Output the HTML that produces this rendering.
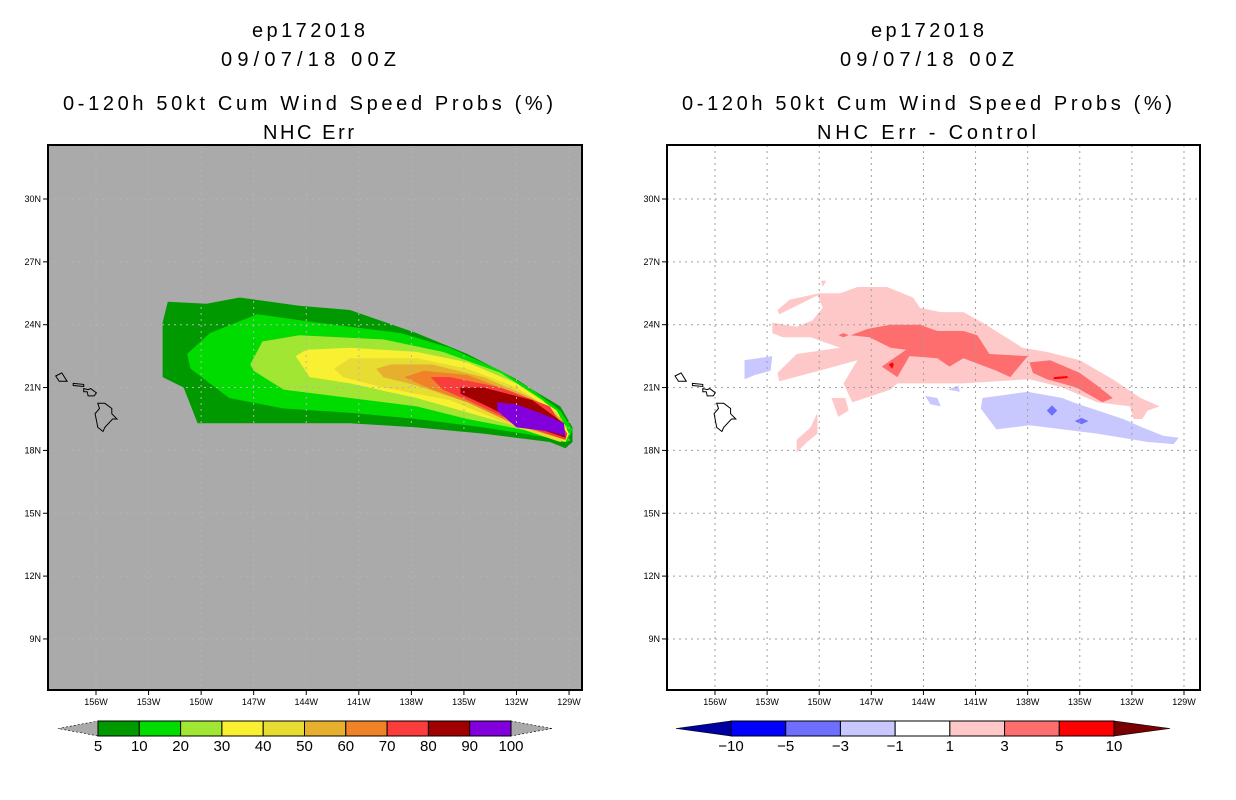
<!DOCTYPE html>
<html><head><meta charset="utf-8"><style>
html,body{margin:0;padding:0;background:#fff;}
svg{display:block;font-family:"Liberation Sans",sans-serif;}
</style></head><body>
<svg id="root" width="1236" height="800" viewBox="0 0 1236 800">
<g font-size="20" fill="#000" text-anchor="start">
<text x="252" y="37" textLength="113">ep172018</text>
<text x="221" y="66" textLength="175">09/07/18 00Z</text>
<text x="63" y="110" textLength="490">0-120h 50kt Cum Wind Speed Probs (%)</text>
<text x="263" y="139" textLength="91">NHC Err</text>
</g>
<g font-size="20" fill="#000">
<text x="871" y="37" textLength="113">ep172018</text>
<text x="840" y="66" textLength="174">09/07/18 00Z</text>
<text x="682" y="110" textLength="490">0-120h 50kt Cum Wind Speed Probs (%)</text>
<text x="817" y="139" textLength="219">NHC Err - Control</text>
</g>
<g id="leftPlot"></g>
<g id="rightPlot"></g>
<g id="leftBar"></g>
<g id="rightBar"></g>
</svg>
<script>
// ---- axis data ----
const lonTicks = [156,153,150,147,144,141,138,135,132,129];
const latTicks = [30,27,24,21,18,15,12,9];
const probLevels = ["5","10","20","30","40","50","60","70","80","90","100"];
const probColors = ["#009a00","#00dc00","#a0e632","#f8f030","#e6dc32","#e6af2d","#f08228","#fa3c3c","#a00000","#8200dc"];
const diffLevels = ["-10","-5","-3","-1","1","3","5","10"];
const diffColors = ["#0000ff","#6e6eff","#c8c8ff","#ffffff","#ffc8c8","#ff6e6e","#ff0000"];
// ---- contour data, [lonW, latN] ----
const p5 = [[152.2,24.1],[151.9,25.1],[149.7,25.0],[147.8,25.3],[144.4,24.9],[141.5,24.7],[137.7,23.6],[134.8,22.6],[132.0,21.4],[131.1,20.9],[129.5,20.1],[128.8,19.1],[128.8,18.4],[129.2,18.1],[130.1,18.4],[133.9,18.8],[137.7,19.1],[141.5,19.3],[150.2,19.3],[151.0,21.0],[152.2,21.5]];
const p10 = [[150.8,22.6],[149.5,23.6],[146.8,24.5],[143.4,24.1],[138.6,23.6],[135.8,22.9],[132.9,21.8],[131.1,20.9],[129.5,19.9],[128.8,19.0],[129.1,18.4],[130.1,18.6],[133.9,19.1],[137.7,19.5],[141.5,19.8],[145.3,20.0],[148.4,20.5],[150.6,21.9]];
const p20 = [[147.2,22.1],[146.5,23.2],[144.4,23.5],[139.6,23.3],[136.2,22.7],[132.9,21.7],[130.5,20.4],[129.1,19.1],[129.3,18.4],[131.1,18.9],[134.8,19.5],[137.7,20.1],[141.5,20.5],[145.3,20.9],[147.0,21.8]];
const p30 = [[144.6,22.5],[144.0,22.8],[141.5,22.9],[137.7,22.7],[134.8,22.2],[132.0,21.2],[129.7,19.9],[129.0,18.8],[129.2,18.4],[130.5,18.8],[133.9,19.6],[137.7,20.5],[141.5,21.2],[143.8,21.5]];
const p40 = [[142.4,21.9],[141.5,22.4],[137.7,22.4],[134.8,21.9],[132.0,21.0],[129.7,19.8],[129.1,18.6],[129.5,18.4],[132.0,19.1],[135.8,20.4],[139.6,21.0],[141.9,21.5]];
const p50 = [[140.0,21.9],[139.2,22.1],[136.8,22.1],[133.9,21.5],[131.1,20.5],[129.4,19.5],[129.2,18.6],[131.1,19.1],[134.8,20.3],[137.7,21.1],[139.6,21.5]];
const p60 = [[138.4,21.5],[137.3,21.8],[134.8,21.6],[132.0,20.7],[129.3,19.3],[129.2,18.5],[132.0,19.2],[134.8,20.3],[137.1,21.0]];
const p70 = [[136.9,21.5],[135.8,21.5],[132.9,21.0],[130.1,20.1],[129.1,18.8],[129.2,18.5],[132.0,19.3],[134.8,20.4],[136.2,20.9]];
const p80 = [[135.2,21.0],[133.9,21.0],[131.1,20.4],[129.3,19.3],[129.2,18.6],[132.0,19.4],[133.9,20.2],[135.2,20.7]];
const p90 = [[133.1,20.3],[132.0,20.2],[130.1,19.6],[129.3,19.3],[129.2,18.7],[130.1,18.9],[132.0,19.1],[133.1,19.9]];
const probPolys = [p5,p10,p20,p30,p40,p50,p60,p70,p80,p90];

const dPink = [[147.8,25.8],[146.1,25.8],[144.6,25.3],[144.2,24.8],[143.0,24.6],[141.7,24.6],[140.6,24.1],[138.3,22.9],[136.9,22.7],[135.0,22.3],[133.1,21.4],[131.5,20.5],[130.4,20.1],[131.1,19.9],[131.4,19.5],[131.9,19.5],[132.1,20.1],[134.0,20.3],[136.0,21.0],[137.9,21.4],[141.7,21.2],[145.5,21.2],[145.9,20.9],[147.7,20.4],[148.1,20.3],[148.6,21.2],[147.8,22.3],[150.0,21.8],[152.3,21.3],[152.4,21.7],[151.3,22.6],[148.8,22.9],[150.5,23.4],[152.1,23.4],[152.7,23.6],[152.7,24.1],[151.3,23.9],[150.4,24.2],[149.8,24.8],[150.1,25.4],[151.3,24.9],[152.3,24.5],[152.4,24.7],[151.7,25.2],[150.0,25.5],[148.8,25.5]];
const dPink2 = [[151.3,18.5],[151.3,17.9],[150.7,18.4],[150.1,18.8],[150.1,19.8],[150.5,19.1]];
const dPink3 = [[149.3,20.5],[148.5,20.5],[148.3,19.9],[148.9,19.6]];
const dPink4 = [[149.9,26.1],[149.6,26.1],[149.8,25.8]];
const dSalmon1 = [[148.2,23.5],[147.2,23.8],[145.9,24.0],[144.2,24.0],[143.2,23.7],[141.7,23.7],[140.9,23.5],[140.2,22.6],[138.0,22.5],[139.0,21.5],[139.8,21.8],[141.7,22.4],[142.5,22.0],[143.2,22.4],[144.8,22.5],[145.5,21.5],[146.4,22.0],[145.0,22.8],[145.9,22.9],[147.1,23.4]];
const dSalmon2 = [[137.9,22.2],[136.7,22.3],[135.0,21.7],[134.0,21.1],[133.1,20.5],[133.7,20.3],[135.2,21.0],[136.9,21.4],[137.7,21.7]];
const dSalmon3 = [[148.9,23.5],[148.6,23.6],[148.3,23.5],[148.6,23.4]];
const dRed1 = [[146.0,22.1],[145.8,22.2],[145.7,22.1],[145.8,21.9]];
const dRed2 = [[136.5,21.5],[135.7,21.55],[135.7,21.45],[136.5,21.4]];
const dBlue1 = [[140.6,20.5],[138.0,20.8],[136.0,20.5],[135.4,20.3],[132.5,19.5],[131.4,19.1],[130.2,18.7],[129.3,18.6],[129.6,18.3],[131.1,18.4],[134.0,18.8],[137.9,19.2],[139.8,19.0],[140.7,20.0]];
const dBlue2 = [[154.3,22.3],[152.7,22.5],[152.8,21.8],[153.7,21.6],[154.3,21.4]];
const dBlue3 = [[143.9,20.6],[143.2,20.5],[143.0,20.1],[143.6,20.2]];
const dBlue4 = [[142.6,20.9],[142.0,21.1],[141.9,20.8]];
const dMid1 = [[136.9,19.9],[136.6,20.15],[136.3,19.9],[136.6,19.65]];
const dMid2 = [[135.3,19.4],[134.9,19.55],[134.5,19.4],[134.9,19.25]];
const diffPolys = [[dPink,"#ffc8c8"],[dPink2,"#ffc8c8"],[dPink3,"#ffc8c8"],[dPink4,"#ffc8c8"],[dSalmon1,"#ff6e6e"],[dSalmon2,"#ff6e6e"],[dSalmon3,"#ff6e6e"],[dRed1,"#ff0000"],[dRed2,"#ff0000"],[dBlue1,"#c8c8ff"],[dBlue2,"#c8c8ff"],[dBlue3,"#c8c8ff"],[dBlue4,"#c8c8ff"],[dMid1,"#6e6eff"],[dMid2,"#6e6eff"]];

const islands = [
 [[155.9,20.25],[155.8,20.0],[156.05,19.75],[155.9,19.1],[155.6,18.9],[155.5,19.1],[155.05,19.5],[154.8,19.5],[155.1,19.75],[155.1,20.0],[155.5,20.25]],
 [[156.7,20.95],[156.45,20.9],[156.3,20.95],[155.98,20.75],[156.1,20.6],[156.45,20.6],[156.5,20.8],[156.7,20.8]],
 [[157.3,21.2],[156.7,21.15],[156.7,21.05],[157.3,21.1]],
 [[158.3,21.55],[157.95,21.7],[157.65,21.3],[158.1,21.3]]
];

const NS="http://www.w3.org/2000/svg";
function mk(tag,attrs,parent){const e=document.createElementNS(NS,tag);for(const k in attrs)e.setAttribute(k,attrs[k]);parent.appendChild(e);return e;}

function drawPanel(g,x0,x1,xs,pxPerDeg,bg,clipId){
  const top=145,bot=690;
  const X=lon=>xs+(156-lon)*pxPerDeg;
  const Y=lat=>199+(30-lat)*20.95;
  const defs=mk('defs',{},g);
  const cp=mk('clipPath',{id:clipId},defs);
  mk('rect',{x:x0,y:top,width:x1-x0,height:bot-top},cp);
  const bgr=mk('rect',{x:x0,y:top,width:x1-x0,height:bot-top,fill:bg},g);
  
  
  const inner=mk('g',{'clip-path':'url(#'+clipId+')'},g);
  return {X,Y,inner,top,bot};
}
function pathOf(poly,X,Y){return 'M'+poly.map(p=>X(p[0]).toFixed(1)+','+Y(p[1]).toFixed(1)).join('L')+'Z';}
function gridAndAxes(g,P,x0,x1,gridColor){
  lonTicks.forEach(l=>{
    const ln=mk('line',{x1:P.X(l),x2:P.X(l),y1:P.top,y2:P.bot,stroke:gridColor,'stroke-width':1,'stroke-dasharray':'2,4'},P.inner);
    
    
    mk('line',{x1:P.X(l),x2:P.X(l),y1:P.bot,y2:P.bot+5,stroke:'#000','stroke-width':1},g);
    const tx=mk('text',{x:P.X(l),y:P.bot+15,'font-size':9,'text-anchor':'middle'},g);
    tx.textContent=l+'W';
    
    
  });
  latTicks.forEach(l=>{
    const ln=mk('line',{x1:x0,x2:x1,y1:P.Y(l),y2:P.Y(l),stroke:gridColor,'stroke-width':1,'stroke-dasharray':'2,4'},P.inner);
    
    
    mk('line',{x1:x0-5,x2:x0,y1:P.Y(l),y2:P.Y(l),stroke:'#000','stroke-width':1},g);
    const tx=mk('text',{x:x0-7,y:P.Y(l)+3,'font-size':9,'text-anchor':'end'},g);
    tx.textContent=l+'N';
    
    
  });
  islands.forEach(is=>{
    const p=mk('path',{d:pathOf(is,P.X,P.Y),fill:'none',stroke:'#000','stroke-width':1},P.inner);
    
    
  });
  const fr=mk('rect',{x:x0,y:P.top,width:x1-x0,height:P.bot-P.top,fill:'none',stroke:'#000','stroke-width':2},g);
  
  
}

// left panel
const LG=document.getElementById('leftPlot');
const LP=drawPanel(LG,48,582,96,17.52,'#aaaaaa','clipL');
probPolys.forEach((poly,i)=>{
  const p=mk('path',{d:pathOf(poly,LP.X,LP.Y),fill:probColors[i]},LP.inner);
  
  
});
gridAndAxes(LG,LP,48,582,'#b4b4b4');

// right panel
const RG=document.getElementById('rightPlot');
const RP=drawPanel(RG,667,1200,715,17.37,'#ffffff','clipR');
diffPolys.forEach(d=>{
  const p=mk('path',{d:pathOf(d[0],RP.X,RP.Y),fill:d[1]},RP.inner);
  
  
});
gridAndAxes(RG,RP,667,1200,'#a0a0a0');

// colorbars
function colorbar(g,xl,xb0,xb1,xr,colors,labels,leftC,rightC,dashed){
  const y0=721,y1=736,ym=728.5;
  const w=(xb1-xb0)/colors.length;
  const lt=mk('path',{d:`M${xl},${ym}L${xb0},${y0}L${xb0},${y1}Z`,fill:leftC,stroke:'#000','stroke-width':0.6,'stroke-dasharray':dashed?'2,2':'none'},g);
  
  
  const rt=mk('path',{d:`M${xr},${ym}L${xb1},${y0}L${xb1},${y1}Z`,fill:rightC,stroke:'#000','stroke-width':0.6,'stroke-dasharray':dashed?'2,2':'none'},g);
  
  
  colors.forEach((c,i)=>{
    const r=mk('rect',{x:xb0+i*w,y:y0,width:w,height:y1-y0,fill:c,stroke:'#000','stroke-width':1},g);
    
    
  });
  labels.forEach((l,i)=>{
    const t=mk('text',{x:xb0+i*w,y:751,'font-size':15,'text-anchor':'middle'},g);
    t.textContent=l.replace('-','\u2212');
    
    
  });
}
colorbar(document.getElementById('leftBar'),58,98,511,552,probColors,probLevels,'#aaaaaa','#aaaaaa',true);
colorbar(document.getElementById('rightBar'),676,731,1114,1170,diffColors,diffLevels,'#0000a0','#780000',false);
</script>
</body></html>
